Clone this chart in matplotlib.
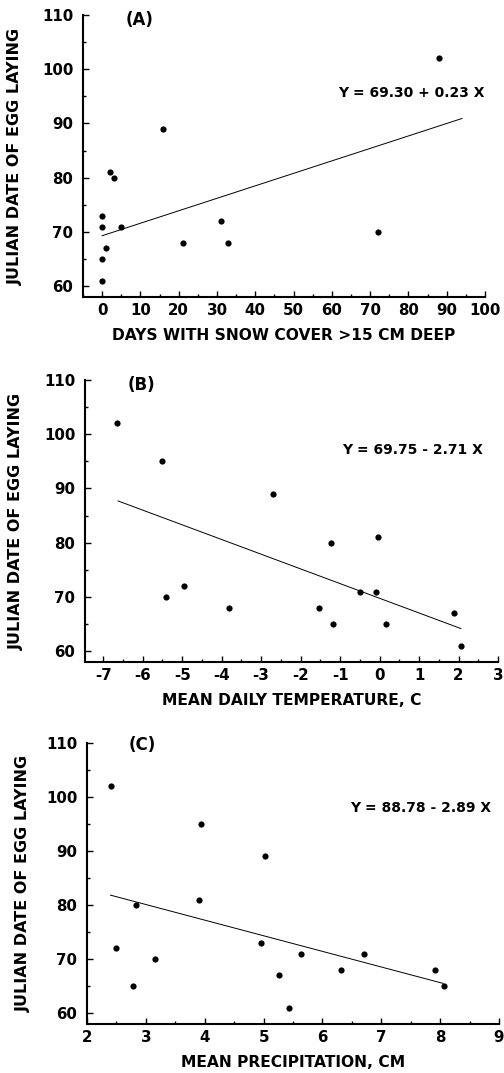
import numpy as np
import matplotlib.pyplot as plt
from matplotlib.ticker import MultipleLocator

plt.rcParams['font.family'] = ['DejaVu Sans']
plt.rcParams['font.weight'] = 'bold'
plt.rcParams['axes.unicode_minus'] = False

# panel A: days with snow cover
snow_x = [0, 0, 0, 0, 1, 2, 3, 5, 16, 21, 31, 33, 72, 88]
snow_y = [61, 65, 71, 73, 67, 81, 80, 71, 89, 68, 72, 68, 70, 102]
snow_fit = (69.30, 0.23)
snow_fit_x = [0, 94]

# panel B: mean daily temperature
temp_x = [-6.64, -5.52, -5.40, -4.96, -3.82, -2.69, -1.53, -1.24, -1.19,
          -0.49, -0.09, -0.03, 0.17, 1.88, 2.06]
temp_y = [102, 95, 70, 72, 68, 89, 68, 80, 65, 71, 71, 81, 65, 67, 61]
temp_fit = (69.75, -2.71)
temp_fit_x = [-6.62, 2.06]

# panel C: mean precipitation
prec_x = [2.40, 2.49, 2.79, 2.83, 3.16, 3.91, 3.94, 4.96, 5.03, 5.27, 5.43,
          5.64, 6.32, 6.70, 7.92, 8.07]
prec_y = [102, 72, 65, 80, 70, 81, 95, 73, 89, 67, 61, 71, 68, 71, 68, 65]
prec_fit = (88.78, -2.89)
prec_fit_x = [2.40, 8.05]

y_ticks = [60, 70, 80, 90, 100, 110]

W, H = 504, 1073
fig = plt.figure(figsize=(W / 100, H / 100), dpi=100)

panels = [
    dict(box=(83, 485, 15, 297), x=snow_x, y=snow_y, fit=snow_fit, fx=snow_fit_x,
         xlim=(-5, 100), xmin=5, xticks=list(range(0, 101, 10)),
         xlabel="DAYS WITH SNOW COVER >15 CM DEEP", tag="(A)", ylx=-0.169,
         eq="Y = 69.30 + 0.23 X", eqpos=(0.634, 0.723), tagpos=(0.107, 0.982)),
    dict(box=(85, 498, 380, 662), x=temp_x, y=temp_y, fit=temp_fit, fx=temp_fit_x,
         xlim=(-7.46, 3), xmin=0.5, xticks=list(range(-7, 4)),
         xlabel="MEAN DAILY TEMPERATURE, C", tag="(B)", ylx=-0.165,
         eq="Y = 69.75 - 2.71 X", eqpos=(0.622, 0.752), tagpos=(0.104, 0.982)),
    dict(box=(87, 499, 743, 1024), x=prec_x, y=prec_y, fit=prec_fit, fx=prec_fit_x,
         xlim=(2, 9), xmin=0.5, xticks=list(range(2, 10)),
         xlabel="MEAN PRECIPITATION, CM", tag="(C)", ylx=-0.155,
         eq="Y = 88.78 - 2.89 X", eqpos=(0.638, 0.769), tagpos=(0.102, 0.993)),
]

for p in panels:
    l, r, t, b = p["box"]
    ax = fig.add_axes([l / W, 1 - b / H, (r - l) / W, (b - t) / H])
    ax.scatter(p["x"], p["y"], s=20, color="black", zorder=3, linewidths=0)
    fx = np.array(p["fx"])
    a, m = p["fit"]
    ax.plot(fx, a + m * fx, color="black", lw=0.7)

    ax.set_xlim(*p["xlim"])
    ax.set_ylim(58, 110)
    ax.set_xticks(p["xticks"], labels=[str(v) for v in p["xticks"]],
                  fontweight="bold", fontsize=10.8)
    ax.xaxis.set_minor_locator(MultipleLocator(p["xmin"]))
    ax.set_yticks(y_ticks, labels=[str(v) for v in y_ticks],
                  fontweight="bold", fontsize=10.8)
    ax.yaxis.set_minor_locator(MultipleLocator(5))
    ax.tick_params(which="both", direction="in", width=1)
    ax.tick_params(axis="x", pad=4)
    ax.tick_params(axis="y", pad=7)
    ax.tick_params(which="major", length=4)
    ax.tick_params(which="minor", length=2)
    for s in ["top", "right"]:
        ax.spines[s].set_visible(False)
    for s in ["left", "bottom"]:
        ax.spines[s].set_linewidth(1.5)

    ax.set_xlabel(p["xlabel"], fontsize=11.2, fontweight="bold")
    ax.set_ylabel("JULIAN DATE OF EGG LAYING", fontsize=11.5, fontweight="bold")
    ax.xaxis.set_label_coords(0.5, -0.11)
    ax.yaxis.set_label_coords(p["ylx"], 0.5)
    ax.xaxis.label.set_va("top")
    ax.yaxis.label.set_va("center")

    ax.text(*p["tagpos"], p["tag"], transform=ax.transAxes, fontsize=12,
            fontweight="bold", ha="left", va="center")
    ax.text(*p["eqpos"], p["eq"], transform=ax.transAxes, fontsize=10,
            fontweight="bold", ha="left", va="center")

fig.savefig("out.png", dpi=100)
